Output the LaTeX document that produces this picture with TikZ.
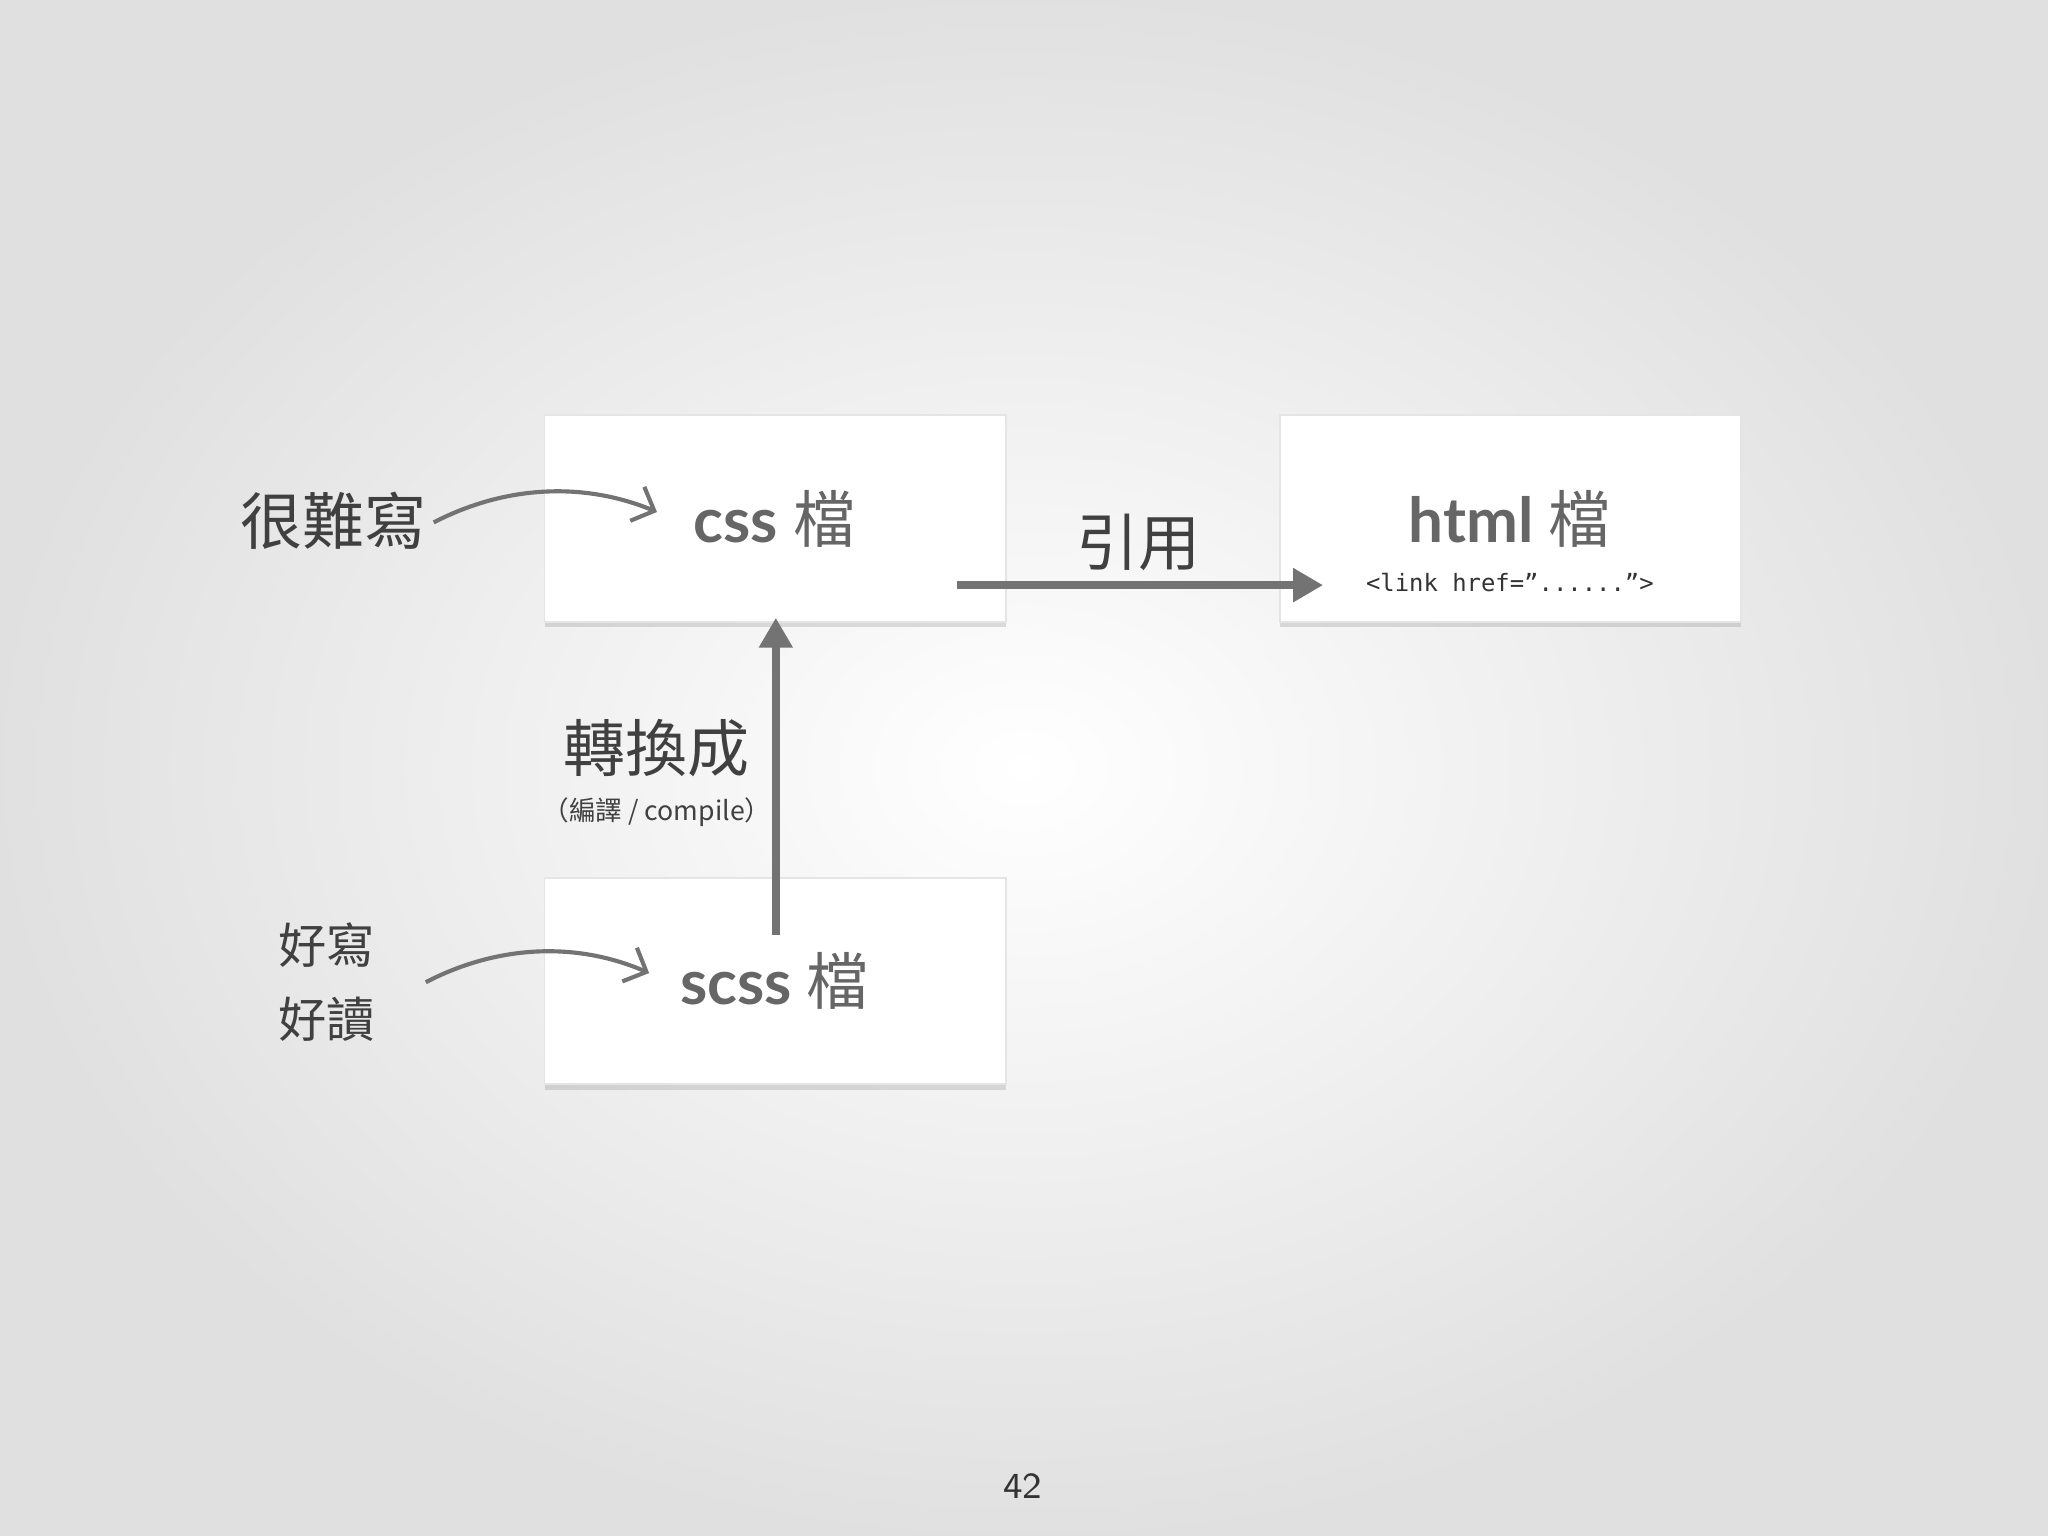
\documentclass[tikz,border=0pt]{standalone}
\usepackage{fontspec}
\setmainfont{Lato}
\newfontfamily\cjk{Noto Sans CJK TC}
\setmonofont{DejaVu Sans Mono}
\usetikzlibrary{arrows.meta,shadows}
\begin{document}
\begin{tikzpicture}[x=0.01cm,y=-0.01cm,
  card/.style={draw=black!10,fill=white,minimum width=3.53cm,minimum height=1.58cm,drop shadow={shadow xshift=0pt,shadow yshift=-1.2pt,opacity=0.25}},
  flow/.style={draw=black!55,line width=1.7pt,-{Triangle[length=6.5pt,width=7pt]}},
  curvy/.style={draw=black!55,line width=0.9pt,-{Straight Barb[length=4pt,width=8pt]}},
  big/.style={text=black!60,font=\bfseries\fontsize{13.5}{16}\selectfont},
  lab/.style={text=black!75,font=\cjk\fontsize{13.5}{16}\selectfont}]
\shade[inner color=white,outer color=black!12] (0,0) rectangle (1568,1176);
\useasboundingbox (0,0) rectangle (1568,1176);
\node[card] (css) at (593.5,397) {};
\node[card] (html) at (1156.5,397) {};
\node[card] (scss) at (593.5,751) {};
\node[big] at (593,397) {css {\cjk\mdseries 檔}};
\node[big] at (1156,397) {html {\cjk\mdseries 檔}};
\node[big] at (593,751) {scss {\cjk\mdseries 檔}};
\node[font=\ttfamily\fontsize{5.2}{7}\selectfont,text=black!80] (lk) at (1156,446) {<link href=”......”>};
\coordinate (a1) at (733,448);
\coordinate (a2) at (1013,448);
\draw[flow] (a1) -- (a2);
\coordinate (b1) at (594,716);
\draw[flow] (b1) -- (594,473);
\node[lab] (yy) at (872,415) {引用};
\node[lab] (zh) at (503,573) {轉換成};
\node[text=black!75,font=\cjk\fontsize{5.8}{8}\selectfont] (bl) at (503,622) {（編譯 / compile）};
\node[lab] (hn) at (255,399) {很難寫};
\node[text=black!75,font=\cjk\fontsize{10.5}{16}\selectfont,align=center] (hx) at (250,752) {好寫\\好讀};
\coordinate (c1) at (332,400); \coordinate (c2) at (503,392);
\draw[curvy] (c1) .. controls (390,370) and (450,370) .. (c2);
\coordinate (d1) at (326,752); \coordinate (d2) at (497,745);
\draw[curvy] (d1) .. controls (384,722) and (444,722) .. (d2);
\node[font=\sffamily\fontsize{8}{10}\selectfont,text=black!80] (pg) at (783,1138) {42};
\end{tikzpicture}
\end{document}
